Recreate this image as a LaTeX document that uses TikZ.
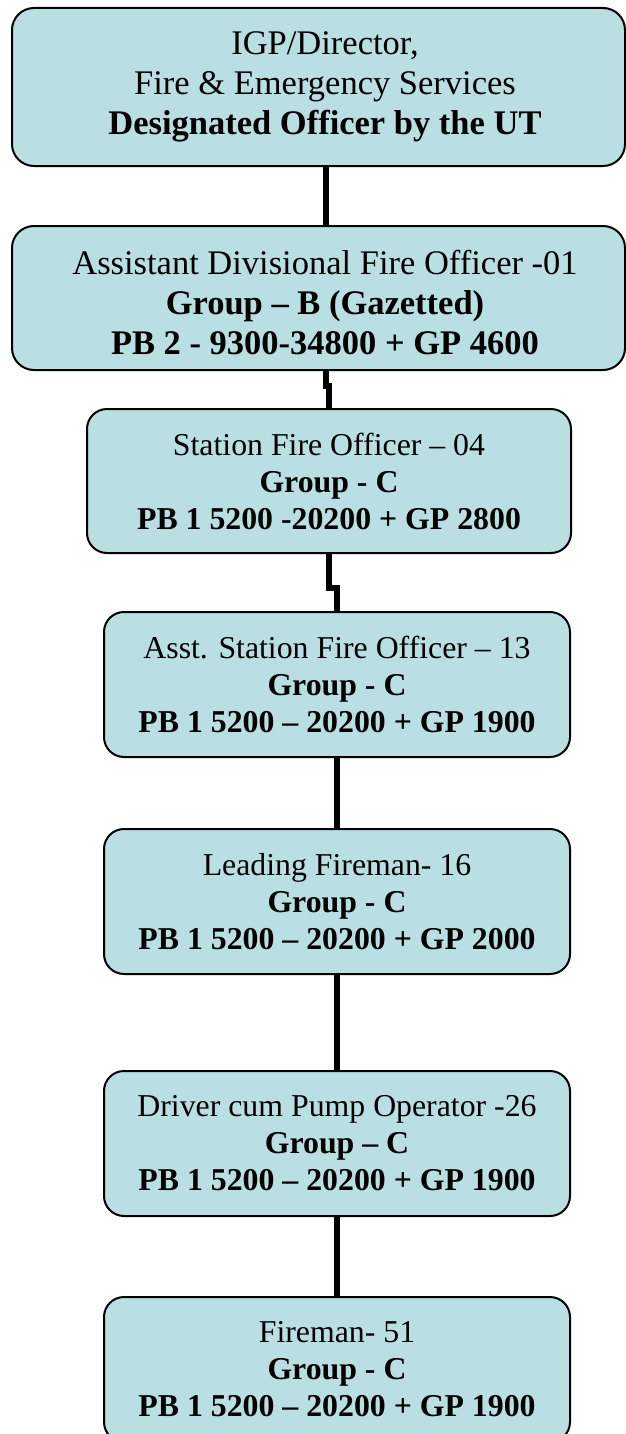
\documentclass[tikz,border=0pt]{standalone}
\usepackage{fontspec}
\setmainfont{Liberation Serif}
\definecolor{boxfill}{HTML}{B9DFE2}
\newcommand\rsh{\hspace*{6.5pt}}
\begin{document}
\begin{tikzpicture}[x=0.5pt,y=-0.5pt,
  box/.style={draw=black,line width=1pt,fill=boxfill,rounded corners=10pt,inner sep=0pt,align=center,text=black},
  bigbox/.style={box,minimum width=306.5pt,minimum height=72pt,rounded corners=11pt,font=\fontsize{17.25pt}{20pt}\selectfont},
  smallbox/.style={box,minimum width=233pt,minimum height=72.5pt,font=\fontsize{15.9pt}{18.5pt}\selectfont},
  conn/.style={line width=3pt,draw=black}]
\useasboundingbox (0,0) rectangle (626,1434);
\fill[white] (0,0) rectangle (626,1434);
% boxes
\node[bigbox,minimum height=79pt] (b1) at (318.5,87)
  {\rsh IGP/Director,\\ \rsh Fire \& Emergency Services\\ \rsh\textbf{Designated Officer by the UT}};
\node[bigbox] (b2) at (318.5,298)
  {\rule{0pt}{16.7pt}\rsh Assistant Divisional Fire Officer -01\\ \rsh\textbf{Group -- B (Gazetted)}\\ \rsh\textbf{PB 2 - 9300-34800 + GP 4600}};
\node[smallbox,minimum width=242pt,minimum height=72pt] (b3) at (329,481)
  {Station Fire Officer -- 04\\ \textbf{Group - C}\\ \textbf{PB 1 5200 -20200 + GP 2800}};
\node[smallbox] (b4) at (337,684.5)
  {Asst. Station Fire Officer -- 13\\ \textbf{Group - C}\\ \textbf{PB 1 5200 -- 20200 + GP 1900}};
\node[smallbox] (b5) at (337,901.5)
  {Leading Fireman- 16\\ \textbf{Group - C}\\ \textbf{PB 1 5200 -- 20200 + GP 2000}};
\node[smallbox] (b6) at (337,1143.5)
  {Driver cum Pump Operator -26\\ \textbf{Group -- C}\\ \textbf{PB 1 5200 -- 20200 + GP 1900}};
\node[smallbox] (b7) at (337,1369.5)
  {Fireman- 51\\ \textbf{Group - C}\\ \textbf{PB 1 5200 -- 20200 + GP 1900}};
% connectors
\coordinate (k1) at (326,196);
\coordinate (j2) at (326,386);
\coordinate (j3) at (329,588);
\draw[conn] (b1.south -| k1) -- (b2.north -| k1);
\draw[conn] (b2.south -| j2) -- (j2) -| (b3.north);
\draw[conn] (b3.south) -- (j3) -| (b4.north);
\draw[conn] (b4.south) -- (b5.north);
\draw[conn] (b5.south) -- (b6.north);
\draw[conn] (b6.south) -- (b7.north);
\end{tikzpicture}
\end{document}
